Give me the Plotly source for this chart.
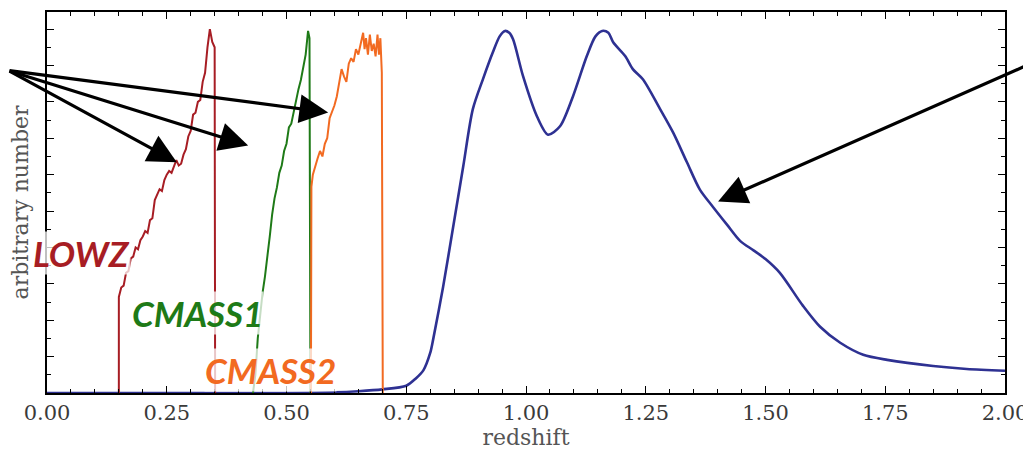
import numpy as np
import plotly.graph_objects as go

# ---------------- data ----------------
lowz_z = [0.150, 0.150, 0.155, 0.160, 0.165, 0.170, 0.175, 0.180, 0.185, 0.190, 0.195,
          0.200, 0.205, 0.210, 0.215, 0.220, 0.225, 0.230, 0.235, 0.240, 0.245,
          0.250, 0.255, 0.260, 0.265, 0.270, 0.275, 0.280, 0.285, 0.290, 0.295,
          0.300, 0.305, 0.310, 0.315, 0.320, 0.325, 0.330, 0.335, 0.340, 0.345,
          0.350, 0.351]
lowz_v = [0.0, 0.264, 0.29, 0.295, 0.33, 0.335, 0.37, 0.375, 0.40, 0.395, 0.42,
          0.43, 0.445, 0.44, 0.475, 0.48, 0.53, 0.545, 0.56, 0.555, 0.585,
          0.60, 0.61, 0.605, 0.625, 0.64, 0.625, 0.63, 0.655, 0.67, 0.705,
          0.72, 0.765, 0.77, 0.80, 0.805, 0.855, 0.88, 0.95, 1.0, 0.965,
          0.95, 0.0]

cmass1_z = [0.430, 0.435, 0.440, 0.445, 0.450, 0.455, 0.460, 0.465, 0.470, 0.475,
            0.480, 0.485, 0.490, 0.495, 0.500, 0.505, 0.510, 0.515, 0.520, 0.525,
            0.530, 0.535, 0.540, 0.545, 0.548, 0.550]
cmass1_v = [0.0, 0.05, 0.15, 0.22, 0.275, 0.32, 0.385, 0.43, 0.49, 0.535,
            0.565, 0.605, 0.625, 0.665, 0.685, 0.73, 0.74, 0.775, 0.80, 0.835,
            0.86, 0.895, 0.93, 0.995, 0.975, 0.0]

cmass2_z = [0.551, 0.552, 0.555, 0.560, 0.565, 0.570, 0.575, 0.580, 0.585, 0.590,
            0.595, 0.600, 0.605, 0.610, 0.615, 0.620, 0.625, 0.630, 0.635, 0.640,
            0.645, 0.650, 0.655, 0.660, 0.663, 0.666, 0.670, 0.674, 0.678, 0.682,
            0.686, 0.690, 0.693, 0.696, 0.699, 0.701]
cmass2_v = [0.0, 0.567, 0.60, 0.625, 0.645, 0.665, 0.65, 0.685, 0.70, 0.755,
            0.77, 0.79, 0.815, 0.85, 0.89, 0.87, 0.855, 0.905, 0.92, 0.91,
            0.945, 0.93, 0.965, 0.99, 0.945, 0.975, 0.93, 0.985, 0.94, 0.96,
            0.925, 0.985, 0.93, 0.975, 0.88, 0.0]

photz_z = [0.0, 0.5, 0.6, 0.65, 0.70, 0.75, 0.77, 0.786, 0.80, 0.806, 0.827, 0.848,
           0.869, 0.889, 0.91, 0.931, 0.945, 0.956, 0.965, 0.973, 0.994, 1.023,
           1.046, 1.071, 1.098, 1.127, 1.145, 1.159, 1.172, 1.182, 1.207, 1.223,
           1.244, 1.28, 1.307, 1.336, 1.363, 1.39, 1.42, 1.447, 1.475, 1.50,
           1.53, 1.578, 1.614, 1.656, 1.704, 1.754, 1.85, 1.92, 2.0]
photz_v = [0.0, 0.0, 0.002, 0.005, 0.01, 0.02, 0.04, 0.063, 0.11, 0.146, 0.292, 0.457,
           0.623, 0.78, 0.862, 0.937, 0.98, 0.995, 0.99, 0.972, 0.87, 0.76,
           0.71, 0.733, 0.815, 0.926, 0.98, 0.995, 0.99, 0.964, 0.926, 0.89,
           0.862, 0.78, 0.716, 0.634, 0.559, 0.512, 0.462, 0.418, 0.392, 0.368,
           0.33, 0.24, 0.182, 0.138, 0.105, 0.091, 0.074, 0.066, 0.061]

x_ticks = [0.0, 0.25, 0.5, 0.75, 1.0, 1.25, 1.5, 1.75, 2.0]
x_ticklabels = ["0.00", "0.25", "0.50", "0.75", "1.00", "1.25", "1.50", "1.75", "2.00"]
y_ticks = [0.0, 0.1, 0.2, 0.3, 0.4, 0.5, 0.6, 0.7, 0.8, 0.9, 1.0]

# ---------------- figure ----------------
RED = "#a71d24"
GREEN = "#1e7a17"
ORANGE = "#f26a21"
BLUE = "#2e3192"

fig = go.Figure()
fig.add_trace(go.Scatter(x=photz_z, y=photz_v, mode="lines",
                         line=dict(color=BLUE, width=2.6, shape="spline", smoothing=0.8)))
fig.add_trace(go.Scatter(x=lowz_z, y=lowz_v, mode="lines", line=dict(color=RED, width=2)))
fig.add_trace(go.Scatter(x=cmass1_z, y=cmass1_v, mode="lines", line=dict(color=GREEN, width=2)))
fig.add_trace(go.Scatter(x=cmass2_z, y=cmass2_v, mode="lines", line=dict(color=ORANGE, width=2)))

serif = "DejaVu Serif"
# page body has an 8px margin, so the figure is sized to fit the window
fig.update_layout(
    width=1023, height=447,
    margin=dict(l=39, r=26, t=4, b=62),
    paper_bgcolor="white", plot_bgcolor="white",
    showlegend=False,
    font=dict(family=serif, color="#333333"),
)
fig.update_xaxes(
    range=[0, 2], tickvals=x_ticks, ticktext=x_ticklabels, automargin=False,
    tickfont=dict(family=serif, size=21, color="#3a3a3a"),
    ticks="inside", ticklen=7, tickwidth=1.2, tickcolor="black",
    minor=dict(dtick=0.05, ticks="inside", ticklen=4, tickwidth=1, tickcolor="black"),
    showline=True, linecolor="black", linewidth=2, mirror="ticks",
    showgrid=False, zeroline=False,
    title=dict(text="redshift", font=dict(family=serif, size=22, color="#555555"), standoff=4),
)
fig.update_yaxes(
    range=[0, 1.047], tickvals=y_ticks, showticklabels=False, automargin=False,
    ticks="inside", ticklen=7, tickwidth=1.2, tickcolor="black",
    minor=dict(dtick=0.05, ticks="inside", ticklen=4, tickwidth=1, tickcolor="black"),
    showline=True, linecolor="black", linewidth=2, mirror="ticks",
    showgrid=False, zeroline=False,
    title=dict(text="arbitrary number", font=dict(family=serif, size=22, color="#555555"), standoff=10),
)

label_font = "Lato"
labels = [("LOWZ", 0.073, 0.386, RED), ("CMASS1", 0.315, 0.22, GREEN), ("CMASS2", 0.466, 0.063, ORANGE)]
for txt, lx, ly, col in labels:
    fig.add_annotation(x=lx, y=ly, xref="x", yref="y", text=txt,
                       showarrow=False,
                       font=dict(family=label_font, size=35, color=col, weight="bold", style="italic"),
                       bgcolor="rgba(255,255,255,0.75)", borderpad=0)

# arrows (tip in data coords, tail as pixel offset)
arrows = [(0.587, 0.771, -366, -42), (0.42, 0.68, -286, -75), (0.271, 0.634, -215, -92),
          (1.401, 0.526, 342, -138)]
for tx, ty, axp, ayp in arrows:
    fig.add_annotation(x=tx, y=ty, xref="x", yref="y", ax=axp, ay=ayp, text="",
                       showarrow=True, arrowhead=2, arrowsize=1.8, arrowwidth=3.2,
                       arrowcolor="black", standoff=0)

fig.write_html("out.html")
